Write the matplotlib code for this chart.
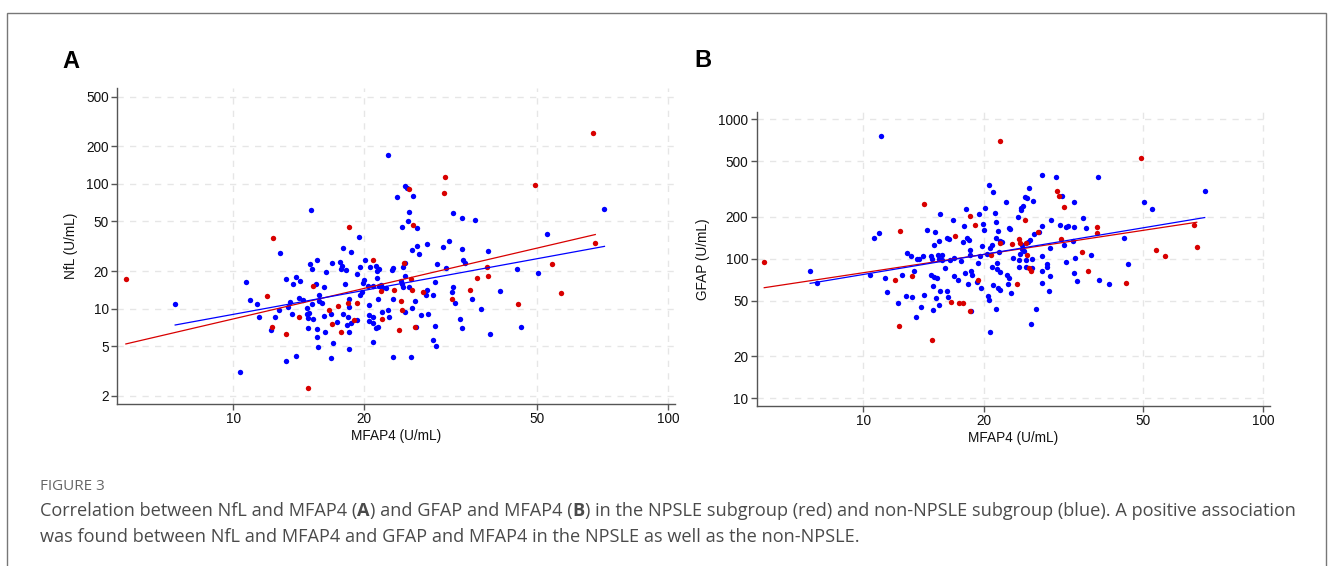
import numpy as np
import matplotlib
matplotlib.use("Agg")
import matplotlib.pyplot as plt
from matplotlib.patches import Rectangle

# panel A: MFAP4 vs NfL
a_blue_mfap4 = [22.74, 24.85, 25.07, 23.77, 25.87, 25.38, 25.20, 24.50, 26.43, 15.07, 31.99, 33.56, 36.02,
                19.47, 12.81, 17.85, 18.66, 25.74, 26.53, 27.87, 26.81, 30.34, 31.43, 33.56, 38.58, 15.01,
                15.58, 15.15, 16.84, 17.60, 17.76, 17.66, 18.17, 19.57, 20.09, 20.64, 21.27, 21.65, 21.38,
                23.15, 23.36, 24.63, 24.85, 29.49, 30.88, 33.80, 34.16, 44.99, 16.35, 19.30, 10.68, 13.20,
                13.74, 13.91, 14.21, 15.47, 16.20, 18.08, 19.95, 19.92, 20.38, 21.01, 21.46, 21.65, 21.92,
                21.95, 22.50, 24.28, 24.41, 24.54, 24.85, 25.42, 29.18, 32.10, 31.82, 28.88, 27.87, 27.73,
                41.19, 15.75, 19.57, 19.75, 10.93, 11.32, 11.46, 12.47, 12.74, 13.34, 13.50, 14.16, 14.44,
                14.75, 15.15, 15.75, 15.97, 18.50, 18.46, 20.58, 21.50, 23.27, 26.20, 22.74, 21.95, 22.86,
                32.39, 35.39, 37.12, 13.62, 14.75, 14.93, 14.88, 15.28, 16.20, 16.78, 17.89, 18.40, 18.63,
                18.30, 17.32, 19.23, 20.53, 20.94, 20.53, 20.94, 21.27, 21.57, 24.85, 25.83, 27.05, 28.02,
                33.32, 33.67, 12.19, 14.88, 15.58, 16.23, 18.46, 26.34, 29.13, 45.87, 38.93, 15.55, 16.93,
                15.66, 18.50, 20.94, 28.82, 29.28, 13.20, 13.94, 16.81, 23.36, 25.60, 10.38, 7.35, 71.5,
                52.8, 50.2]
a_blue_nfl = [171.9, 95.8, 92.9, 78.6, 79.6, 59.6, 50.8, 45.2, 44.4, 61.8, 58.2, 53.4, 51.4,
              37.3, 27.8, 30.5, 28.5, 29.5, 31.6, 32.8, 27.3, 31.2, 35.1, 29.9, 28.7, 22.7,
              24.3, 20.9, 23.2, 23.5, 21.9, 20.8, 20.3, 21.5, 24.4, 21.6, 21.9, 20.6, 19.9,
              20.3, 21.2, 21.7, 23.1, 22.8, 21.2, 24.3, 23.0, 20.8, 19.6, 19.0, 16.3, 17.2,
              15.6, 17.8, 16.6, 15.8, 14.9, 15.8, 16.9, 15.9, 15.1, 15.3, 17.6, 15.3, 15.5,
              14.5, 14.5, 16.6, 15.8, 14.8, 18.1, 15.0, 16.4, 14.8, 13.6, 12.8, 14.0, 12.9,
              13.8, 12.9, 12.9, 13.5, 11.7, 10.8, 8.6, 8.6, 9.8, 10.2, 11.3, 12.1, 11.7,
              10.1, 10.9, 11.5, 11.0, 12.0, 10.3, 10.6, 12.0, 12.0, 11.5, 9.7, 9.3, 8.5,
              11.1, 11.9, 10.0, 9.0, 9.0, 9.2, 8.4, 8.2, 8.7, 9.1, 9.1, 8.6, 7.7,
              7.4, 7.8, 8.1, 8.8, 8.6, 7.9, 7.7, 7.0, 7.1, 9.3, 10.1, 8.8, 9.1,
              8.2, 7.0, 6.7, 7.0, 6.9, 6.5, 6.5, 7.1, 7.2, 7.1, 6.2, 5.9, 5.3,
              4.9, 4.7, 5.4, 5.6, 5.0, 3.8, 4.2, 4.0, 4.1, 4.1, 3.1, 10.8, 62.5,
              39.9, 19.2]
a_red_mfap4 = [30.71, 30.50, 25.42, 25.87, 18.46, 12.36, 20.94, 24.71, 38.37, 38.51, 36.34, 15.23, 25.60,
               11.98, 21.92, 23.44, 25.74, 27.34, 35.14, 31.82, 17.45, 18.40, 19.26, 16.63, 24.37, 24.41,
               45.31, 14.16, 22.03, 16.84, 18.99, 12.26, 13.24, 17.73, 24.07, 26.20, 14.85, 67.2, 49.5,
               5.66, 68.1, 54.1, 56.8]
a_red_nfl = [113.1, 84.7, 90.1, 46.6, 44.9, 36.7, 24.6, 23.0, 21.6, 18.4, 17.5, 15.1, 17.1,
             12.5, 13.8, 14.2, 14.2, 13.5, 14.0, 12.0, 10.4, 11.1, 11.0, 9.7, 11.5, 9.8,
             10.9, 8.6, 8.3, 7.5, 8.1, 7.1, 6.3, 6.5, 6.7, 7.1, 2.3, 256, 97.5,
             17.4, 33.7, 22.6, 13.4]

# panel B: MFAP4 vs GFAP
b_blue_mfap4 = [11.07, 20.64, 21.08, 27.96, 30.37, 38.62, 25.89, 25.31, 25.64, 26.49, 22.77, 31.38, 33.63,
                50.25, 52.83, 15.59, 16.77, 18.08, 19.48, 20.17, 21.28, 24.82, 25.02, 24.73, 24.30, 29.50,
                35.42, 14.43, 15.09, 17.87, 19.97, 20.05, 21.45, 21.70, 23.12, 23.29, 27.91, 30.96, 32.05,
                32.48, 33.63, 36.04, 10.65, 10.94, 15.47, 16.20, 16.39, 17.70, 18.15, 18.40, 15.00, 18.53,
                19.78, 20.76, 21.00, 21.45, 21.91, 22.16, 24.87, 26.14, 25.84, 26.75, 27.43, 24.97, 25.16,
                24.68, 29.22, 31.80, 33.37, 44.96, 12.84, 13.19, 13.62, 13.81, 14.13, 14.80, 14.83, 15.35,
                15.77, 15.71, 15.44, 16.48, 16.90, 17.53, 18.50, 19.52, 20.36, 21.78, 23.74, 24.44, 25.50,
                26.44, 27.91, 28.77, 32.11, 33.89, 37.09, 45.83, 10.39, 11.33, 12.47, 13.39, 15.98, 16.83,
                17.97, 18.60, 18.68, 19.30, 20.96, 21.53, 21.61, 21.99, 24.49, 25.50, 26.39, 28.72, 27.96,
                29.33, 33.69, 14.74, 15.03, 15.26, 17.29, 19.22, 18.29, 19.67, 21.04, 21.66, 21.91, 22.90,
                23.16, 22.94, 28.01, 29.11, 34.21, 38.84, 41.16, 11.48, 12.19, 12.76, 13.24, 14.21, 14.92,
                15.15, 15.56, 16.23, 15.50, 16.29, 20.48, 20.60, 23.38, 13.97, 14.92, 18.60, 21.41, 27.06,
                13.52, 26.29, 20.68, 71.4, 7.36, 7.64]
b_blue_gfap = [761, 337, 299, 398, 387, 383, 323, 275, 274, 260, 256, 283, 255,
               255, 227, 209, 190, 226, 209, 231, 212, 233, 240, 223, 198, 189,
               197, 161, 155, 171, 179, 161, 183, 157, 167, 163, 171, 174, 168,
               171, 168, 165, 142, 154, 135, 142, 138, 132, 140, 136, 125, 115,
               123, 119, 125, 140, 135, 132, 125, 137, 132, 150, 155, 118, 114,
               109, 120, 125, 135, 142, 110, 105, 100, 99, 104, 104, 100, 107,
               107, 98, 100, 98, 102, 97, 106, 104, 108, 112, 101, 98, 98,
               99, 104, 91, 95, 101, 106, 92, 76, 73, 76, 82, 86, 75,
               79, 82, 77, 93, 88, 94, 84, 81, 88, 88, 86, 88, 82,
               75, 79, 77, 74, 73, 70, 68, 66, 62, 65, 62, 60, 76,
               73, 66, 67, 59, 69, 71, 66, 58, 48, 54, 53, 55, 64,
               52, 59, 59, 47, 53, 54, 51, 57, 45, 43, 42, 44, 44,
               38, 34, 30, 304, 81.6, 66.6]
b_red_mfap4 = [21.95, 49.58, 14.21, 30.55, 30.84, 31.74, 18.46, 19.04, 25.35, 12.38, 16.93, 27.38, 38.47,
               38.47, 24.44, 24.58, 23.47, 21.99, 25.55, 31.14, 25.64, 20.88, 53.96, 35.22, 25.89, 26.24,
               36.38, 11.98, 13.24, 24.16, 19.30, 45.39, 16.61, 17.39, 17.77, 18.43, 12.28, 14.86, 67.3,
               5.65, 56.8, 68.2]
b_red_gfap = [693, 527, 245, 307, 284, 236, 204, 176, 191, 158, 145, 156, 170,
              152, 138, 129, 128, 129, 130, 138, 106, 106, 116, 111, 86, 82,
              82, 71, 75, 66, 71, 67, 49, 48, 48, 42, 33, 26, 174,
              95.1, 105, 121]

x_ticks = [10, 20, 50, 100]
a_y_ticks = [2, 5, 10, 20, 50, 100, 200, 500]
b_y_ticks = [10, 20, 50, 100, 200, 500, 1000]

RED = '#d80000'
BLUE = '#0000ff'

plt.rcParams['font.family'] = ['Liberation Sans', 'DejaVu Sans']

fig = plt.figure(figsize=(13.3, 5.66), dpi=100)
W, H = 1330, 566


def fit_line(ax, x, y, color):
    # straight line fitted on log-log scale
    k, b = np.polyfit(np.log10(x), np.log10(y), 1)
    xs = np.array([min(x), max(x)])
    ax.plot(xs, 10 ** (b + k * np.log10(xs)), color=color, lw=0.9, zorder=4)


def panel(rect, xlim, ylim, yticks, ylabel, blue, red):
    ax = fig.add_axes(rect)
    ax.set_xscale('log')
    ax.set_yscale('log')
    ax.set_xlim(*xlim)
    ax.set_ylim(*ylim)
    ax.scatter(blue[0], blue[1], s=15, color=BLUE, lw=0, zorder=3)
    ax.scatter(red[0], red[1], s=15, color=RED, lw=0, zorder=3)
    fit_line(ax, red[0], red[1], RED)
    fit_line(ax, blue[0], blue[1], BLUE)
    ax.set_xticks(x_ticks)
    ax.set_xticklabels([str(t) for t in x_ticks])
    ax.set_yticks(yticks)
    ax.set_yticklabels([str(t) for t in yticks])
    ax.minorticks_off()
    ax.grid(True, color='#e6e6e6', lw=1.0, linestyle=(0, (4.5, 4.5)), zorder=0)
    for s in ['top', 'right']:
        ax.spines[s].set_visible(False)
    for s in ['left', 'bottom']:
        ax.spines[s].set_color('#555555')
        ax.spines[s].set_linewidth(1.0)
    ax.tick_params(colors='#555555', labelcolor='#111111', labelsize=9.8, length=4, width=1.0, pad=2)
    ax.set_xlabel('MFAP4 (U/mL)', fontsize=9.8, color='#111111', labelpad=2)
    ax.set_ylabel(ylabel, fontsize=9.8, color='#111111', labelpad=6)
    return ax


panel([117 / W, 1 - 404 / H, 558 / W, 316 / H], (5.40, 103.9), (1.716, 587), a_y_ticks,
      'NfL (U/mL)', (a_blue_mfap4, a_blue_nfl), (a_red_mfap4, a_red_nfl))
panel([756.7 / W, 1 - 405.7 / H, 513.3 / W, 294 / H], (5.41, 104), (8.85, 1133), b_y_ticks,
      'GFAP (U/mL)', (b_blue_mfap4, b_blue_gfap), (b_red_mfap4, b_red_gfap))

fig.text(62 / W, 1 - 68.5 / H, 'A', fontsize=17, fontweight='bold', color='black')
fig.text(694 / W, 1 - 67 / H, 'B', fontsize=17, fontweight='bold', color='black')

# figure frame
fig.patches.append(Rectangle((6.5 / W, -0.05), (1326 - 6.5) / W, 1 - 12.5 / H + 0.05,
                             transform=fig.transFigure, fill=False, edgecolor='#777777', lw=1.0))

# caption
cap_font = ['Open Sans', 'DejaVu Sans']
fig.text(40 / W, 1 - 486 / H, 'FIGURE 3', fontsize=11, color='#666666', family=cap_font, va='center')

renderer = fig.canvas.get_renderer()


def caption_line(y, parts):
    x = 40 / W
    for txt, bold in parts:
        t = fig.text(x, 1 - y / H, txt, fontsize=13.1, color='#4a4a4a', family=cap_font,
                     fontweight='bold' if bold else 'normal', va='center')
        x += t.get_window_extent(renderer).width / W


caption_line(511, [('Correlation between NfL and MFAP4 (', False), ('A', True),
                   (') and GFAP and MFAP4 (', False), ('B', True),
                   (') in the NPSLE subgroup (red) and non-NPSLE subgroup (blue). A positive association', False)])
caption_line(537, [('was found between NfL and MFAP4 and GFAP and MFAP4 in the NPSLE as well as the non-NPSLE.', False)])

fig.savefig('out.png', dpi=100)
